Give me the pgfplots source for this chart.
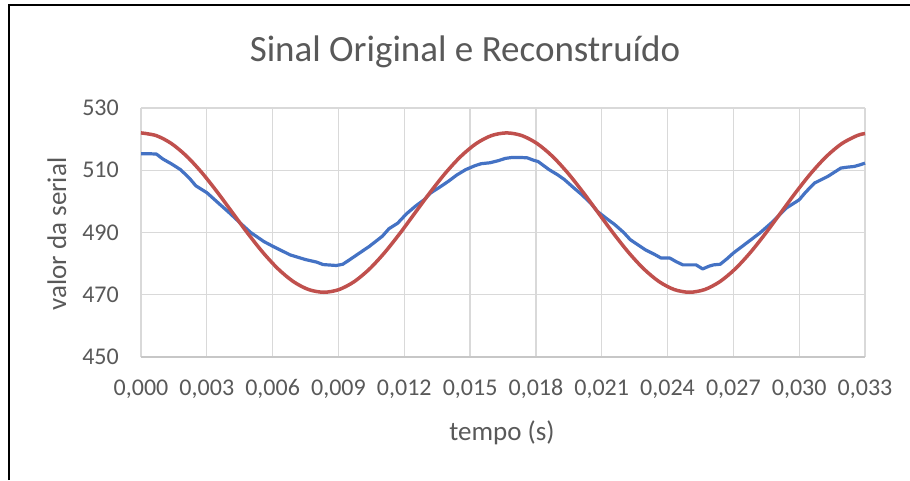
\documentclass[border=0pt]{standalone}
\usepackage{pgfplots}
\pgfplotsset{compat=1.18}
\usepackage{fontspec}
\setmainfont{Carlito}
\definecolor{txt}{HTML}{595959}
\definecolor{grd}{HTML}{D9D9D9}
\definecolor{bl}{HTML}{4472C4}
\definecolor{rd}{HTML}{C0504D}
\begin{document}
\begin{tikzpicture}[x=1pt,y=1pt]
\useasboundingbox (0,0) rectangle (910,480);
\fill[white] (0,0) rectangle (910,480);
\draw[line width=2pt,black] (9,0) -- (9,475) -- (910,475);
\node[font=\fontsize{37}{44}\selectfont, text=txt, anchor=base] at (465,418) {Sinal Original e Reconstruído};
\node[font=\fontsize{27}{32}\selectfont, text=txt, anchor=base] at (502,40) {tempo (s)};
\node[font=\fontsize{27}{32}\selectfont, text=txt, anchor=base, rotate=90] at (66,246) {valor da serial};
\begin{axis}[at={(141pt,123pt)}, anchor=south west, scale only axis,
  width=724pt, height=249pt,
  xmin=0, xmax=0.033, ymin=450, ymax=530,
  scaled x ticks=false,
  xtick={0,0.003,0.006,0.009,0.012,0.015,0.018,0.021,0.024,0.027,0.030,0.033},
  xticklabels={{0,000},{0,003},{0,006},{0,009},{0,012},{0,015},{0,018},{0,021},{0,024},{0,027},{0,030},{0,033}},
  ytick={450,470,490,510,530},
  grid=major, major grid style={grd, line width=1.3pt},
  axis line style={draw=none}, tick style={draw=none},
  tick label style={font=\fontsize{24}{28}\selectfont, text=txt, inner sep=0pt},
  xticklabel style={text height=16pt, text depth=0pt, anchor=north},
  xticklabel shift=22pt, yticklabel shift=22pt,
  /pgf/number format/assume math mode=true,
  clip=false]
\draw[grd!80!gray, line width=1.3pt] (rel axis cs:0,0) -- (rel axis cs:1,0);
\addplot[bl, line width=3.2pt, line join=round] coordinates {
(0,515.3) (0.0004,515.3) (0.0007,515.2) (0.0010,513.6) (0.0014,512.0) (0.0018,510.2)
(0.0022,507.5) (0.0025,505.0) (0.0030,502.8) (0.0036,499.0) (0.0040,496.5) (0.0045,493.2)
(0.0050,490.0) (0.0056,487.1) (0.0060,485.6) (0.0068,482.8) (0.0075,481.3) (0.0080,480.5)
(0.0083,479.7) (0.0089,479.4) (0.0092,479.8) (0.0095,481.2) (0.0100,483.6) (0.0104,485.5)
(0.0110,488.8) (0.0113,491.2) (0.0117,493.0) (0.0121,496.0) (0.0125,498.4) (0.0129,500.5)
(0.0132,502.7) (0.0136,504.5) (0.0140,506.4) (0.0144,508.5) (0.0148,510.2) (0.0152,511.4)
(0.0155,512.1) (0.0159,512.4) (0.0163,513.1) (0.0166,513.8) (0.0169,514.1) (0.0173,514.1)
(0.0176,514.0) (0.0179,513.2) (0.0181,512.8) (0.0186,510.2) (0.0190,508.5) (0.0193,507.0)
(0.0197,504.5) (0.0201,502.1) (0.0205,499.4) (0.0208,496.8) (0.0212,494.6) (0.0216,492.5)
(0.0220,490.0) (0.0223,487.7) (0.0227,485.8) (0.0230,484.4) (0.0234,483.0) (0.0237,481.8)
(0.0241,481.8) (0.0244,480.6) (0.0247,479.6) (0.0253,479.6) (0.0256,478.3) (0.0259,479.2)
(0.0261,479.6) (0.0264,479.8) (0.0267,481.5) (0.0270,483.4) (0.0276,486.6) (0.0282,489.8)
(0.0288,493.5) (0.0294,497.8) (0.0300,500.5) (0.0303,503.0) (0.0307,505.9) (0.0313,508.0)
(0.0319,510.7) (0.0322,511.0) (0.0325,511.2) (0.0328,511.8) (0.0330,512.3)
};
\addplot[rd, line width=3.5pt, smooth] coordinates {
(0,522.0) (0.000694,521.13) (0.001389,518.57) (0.002083,514.50) (0.002778,509.2)
(0.003472,503.03) (0.004167,496.4) (0.004861,489.77) (0.005556,483.6) (0.00625,478.30)
(0.006944,474.23) (0.007639,471.67) (0.008333,470.8) (0.009028,471.67) (0.009722,474.23)
(0.010417,478.30) (0.011111,483.6) (0.011806,489.77) (0.0125,496.4) (0.013194,503.03)
(0.013889,509.2) (0.014583,514.50) (0.015278,518.57) (0.015972,521.13) (0.016667,522.0)
(0.017361,521.13) (0.018056,518.57) (0.01875,514.50) (0.019444,509.2) (0.020139,503.03)
(0.020833,496.4) (0.021528,489.77) (0.022222,483.6) (0.022917,478.30) (0.023611,474.23)
(0.024306,471.67) (0.025,470.8) (0.025694,471.67) (0.026389,474.23) (0.027083,478.30)
(0.027778,483.6) (0.028472,489.77) (0.029167,496.4) (0.029861,503.03) (0.030556,509.2)
(0.03125,514.50) (0.031944,518.57) (0.032639,521.13) (0.033,521.8)
};
\end{axis}
\end{tikzpicture}
\end{document}
